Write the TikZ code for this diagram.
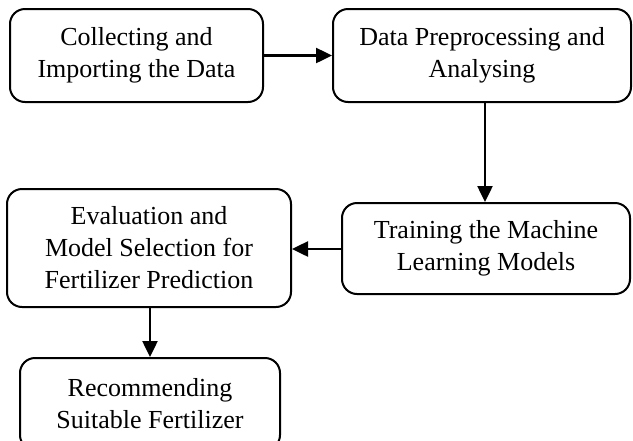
\documentclass[tikz,border=0pt]{standalone}
\usepackage{fontspec}
\setmainfont{Liberation Serif}
\usetikzlibrary{arrows.meta}

\tikzset{
  stage/.style={draw, line width=2pt, rounded corners=15pt, align=center,
    inner sep=0pt, font=\fontsize{26}{32}\selectfont},
  flow/.style={line width=2.5pt, -{Triangle[length=16pt,width=15pt]}}
}

\begin{document}
\begin{tikzpicture}[x=1pt,y=-1pt]
\useasboundingbox (0,0) rectangle (633,440);
\clip (0,0) rectangle (633,440);

\node [stage, minimum width=253pt, minimum height=93pt] (collect) at (136.5,55.5) {Collecting and\\Importing the Data};
\node [stage, minimum width=298pt, minimum height=93pt] (prep) at (482,55.5) {Data Preprocessing and\\Analysing};
\node [stage, minimum width=288pt, minimum height=91pt] (train) at (486,248.5) {Training the Machine\\Learning Models};
\node [stage, minimum width=284pt, minimum height=118pt] (eval) at (149,248) {Evaluation and\\Model Selection for\\Fertilizer Prediction};
\node [stage, minimum width=260pt, minimum height=92pt] (recommend) at (150,404) {Recommending\\Suitable Fertilizer};

\draw [flow] (collect) -- (prep);
\draw [flow] (prep.south -| 485,0) -- (train.north -| 485,0);
\draw [flow] (train.west |- 0,249) -- (eval.east |- 0,249);
\draw [flow] (eval.south -| 150,0) -- (recommend.north);
\end{tikzpicture}
\end{document}
